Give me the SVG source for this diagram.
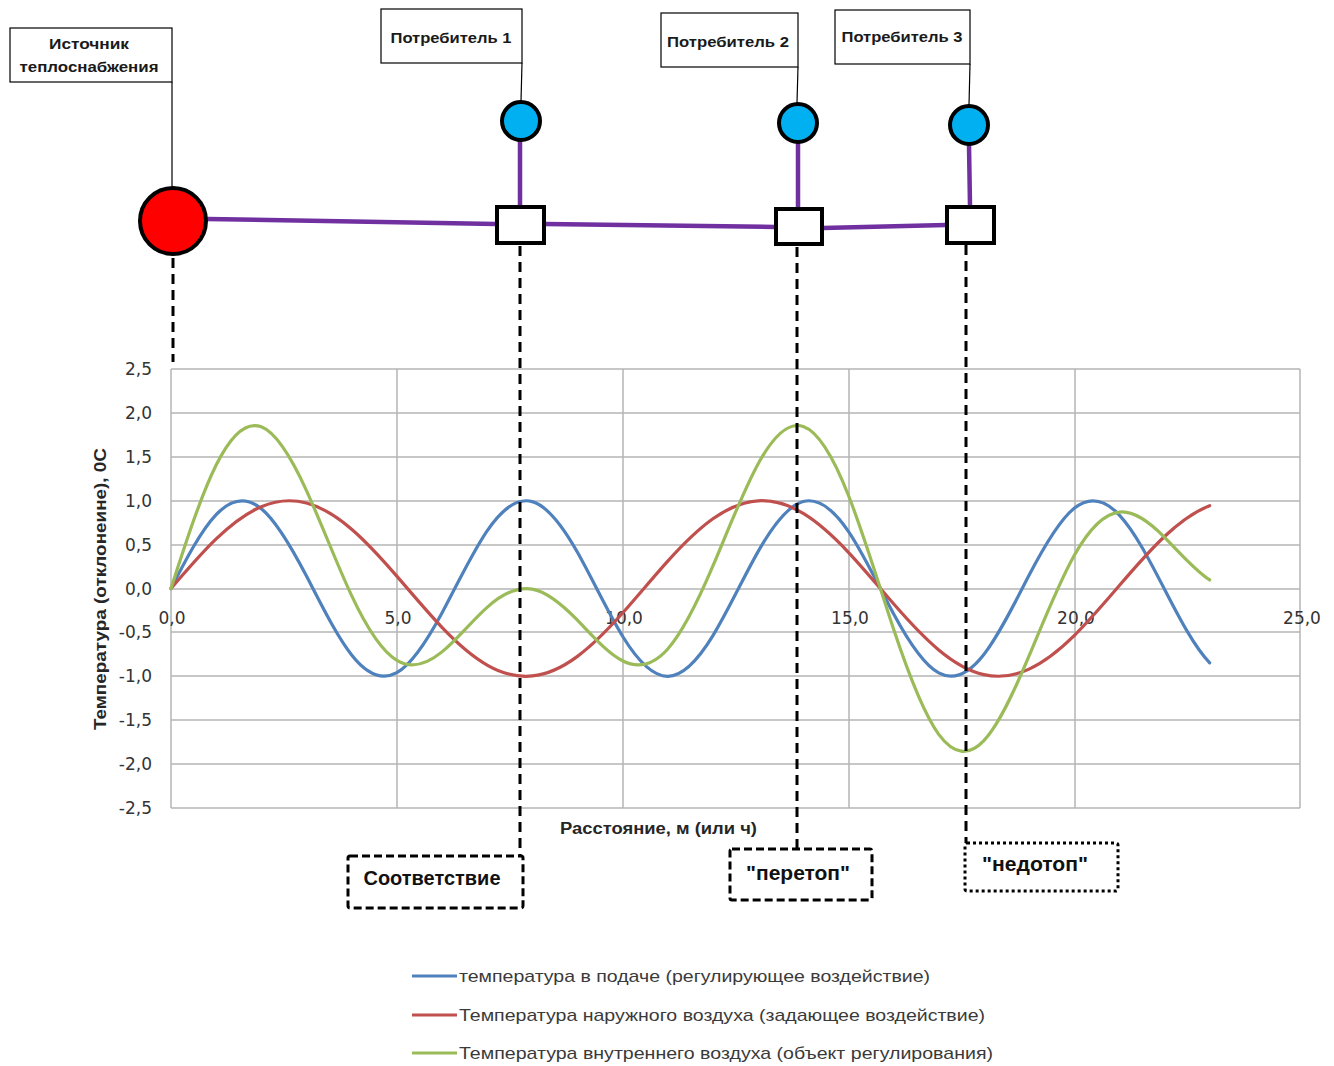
<svg xmlns="http://www.w3.org/2000/svg" width="1334" height="1066" viewBox="0 0 1334 1066">
<style>
.lbl{fill:#fff;stroke:#000;stroke-width:1.2}
.lt{font-family:"Liberation Sans",Arial,sans-serif;font-weight:bold;font-size:15px;fill:#1a1a1a;text-anchor:middle}
.pipe{stroke:#7030A0;stroke-width:4.5;fill:none;stroke-linecap:round}
.lead{stroke:#000;stroke-width:1.2;fill:none}
.dash{stroke:#000;stroke-width:3;fill:none;stroke-dasharray:10 6}
.cons{fill:#00B0F0;stroke:#000;stroke-width:4}
.junc{fill:#fff;stroke:#000;stroke-width:4}
.grid{stroke:#B5B5B5;stroke-width:1.5;fill:none}
.tick{font-family:"DejaVu Sans",Verdana,sans-serif;font-size:17px;fill:#333333}
.ty{text-anchor:end}
.tx{text-anchor:middle}
.ax{font-family:"Liberation Sans",Arial,sans-serif;font-weight:bold;font-size:16px;fill:#262626}
.curve{fill:none;stroke-width:3.2;stroke-linejoin:round;stroke-linecap:round}
.st{font-family:"Liberation Sans",Arial,sans-serif;font-weight:bold;font-size:20px;fill:#111;text-anchor:middle}
.lg{font-family:"Liberation Sans",Arial,sans-serif;font-size:17px;fill:#3a3a3a}
</style>
<rect width="1334" height="1066" fill="#fff"/>

<g id="chart">
  <g id="grid">
    <path class="grid" d="M171,369H1300M171,413H1300M171,457H1300M171,501H1300M171,545H1300M171,589H1300M171,632H1300M171,676H1300M171,720H1300M171,764H1300M171,808H1300"/>
    <path class="grid" d="M171,369V808M397,369V808M623,369V808M849,369V808M1075,369V808M1300,369V808"/>
  </g>
  <g id="y-ticks" class="tick ty">
    <text x="152" y="375">2,5</text>
    <text x="152" y="419">2,0</text>
    <text x="152" y="463">1,5</text>
    <text x="152" y="507">1,0</text>
    <text x="152" y="551">0,5</text>
    <text x="152" y="595">0,0</text>
    <text x="152" y="638">-0,5</text>
    <text x="152" y="682">-1,0</text>
    <text x="152" y="726">-1,5</text>
    <text x="152" y="770">-2,0</text>
    <text x="152" y="814">-2,5</text>
  </g>
  <g id="x-ticks" class="tick tx">
    <text x="172" y="624">0,0</text>
    <text x="398" y="624">5,0</text>
    <text x="624" y="624">10,0</text>
    <text x="850" y="624">15,0</text>
    <text x="1076" y="624">20,0</text>
    <text x="1302" y="624">25,0</text>
  </g>
  <text class="ax" transform="translate(106,589) rotate(-90)" text-anchor="middle" textLength="282" lengthAdjust="spacingAndGlyphs">Температура (отклонеине), 0С</text>
  <text class="ax" x="560" y="834" textLength="197" lengthAdjust="spacingAndGlyphs">Расстояние,  м (или ч)</text>
  <path id="s-blue" class="curve" stroke="#4F81BD" d="M171,588.5 C186.05,559.23 201.11,530.43 216.16,514.62 S246.27,496.48 261.32,508.66 S291.43,547.14 306.48,576.11 S336.59,635.82 351.64,654.95 S381.75,680.99 396.8,672.69 S426.91,641.13 441.96,613.03 S472.07,552.88 487.12,530.82 S517.23,497.37 532.28,501.63 S562.39,525.65 577.44,552.32 S607.55,611.7 622.6,636.26 S652.71,676.43 667.76,676.3 S697.87,660.31 712.92,635.61 S743.03,578.17 758.08,551.61 S788.19,505.52 803.24,501.52 S833.35,509.17 848.4,531.4 S878.51,585.75 893.56,613.78 S923.67,664.86 938.72,672.91 S968.83,673.77 983.88,654.44 S1013.99,604.28 1029.04,575.34 S1059.15,520.28 1074.2,508.34 S1104.31,499.01 1119.36,515.04 S1149.47,560.01 1164.52,589.28 S1194.63,647.21 1209.68,662.8"/>
  <path id="s-red" class="curve" stroke="#C0504D" d="M171,588.5 C186.05,570.94 201.11,553.41 216.16,538.92 S246.27,513.03 261.32,506.67 S291.43,499.01 306.48,503 S336.59,516.24 351.64,529.19 S381.75,558.73 396.8,576.11 S426.91,611.6 441.96,627.35 S472.07,656.41 487.12,665.02 S517.23,677.5 532.28,675.96 S562.39,667.5 577.44,656.35 S607.55,629.89 622.6,613.03 S652.71,577.84 667.76,561.15 S697.87,529.5 712.92,518.82 S743.03,501.78 758.08,500.83 S788.19,504.35 803.24,513.47 S833.35,536.32 848.4,552.32 S878.51,586.52 893.56,603.81 S923.67,637.41 938.72,649.95 S968.83,671.24 983.88,674.64 S1013.99,676.07 1029.04,669.12 S1059.15,650.43 1074.2,635.61 S1104.31,603.1 1119.36,585.55 S1149.47,550.67 1164.52,536.52 S1194.63,511.45 1209.68,505.64"/>
  <path id="s-green" class="curve" stroke="#9BBB59" d="M171,588.5 C186.05,541.67 201.11,495.34 216.16,465.04 S246.27,421.01 261.32,426.83 S291.43,457.65 306.48,490.61 S336.59,563.56 351.64,595.64 S381.75,651.22 396.8,660.3 S426.91,664.23 441.96,651.88 S472.07,620.79 487.12,607.34 S517.23,586.37 532.28,589.09 S562.39,604.65 577.44,620.17 S607.55,653.09 622.6,660.79 S652.71,665.77 667.76,648.95 S697.87,601.31 712.92,565.93 S743.03,491.45 758.08,463.94 S788.19,421.37 803.24,426.49 S833.35,456.99 848.4,495.22 S878.51,583.77 893.56,629.09 S923.67,713.77 938.72,734.36 S968.83,756.51 983.88,740.58 S1013.99,691.85 1029.04,655.96 S1059.15,582.21 1074.2,555.45 S1104.31,513.61 1119.36,512.09 S1149.47,522.18 1164.52,537.3 S1194.63,570.16 1209.68,579.94"/>
  <g id="legend">
    <line x1="412" y1="976" x2="457" y2="976" stroke="#4F81BD" stroke-width="3.2"/>
    <text class="lg" x="459" y="982" textLength="471" lengthAdjust="spacingAndGlyphs">температура в подаче (регулирующее воздействие)</text>
    <line x1="412" y1="1015" x2="457" y2="1015" stroke="#C0504D" stroke-width="3.2"/>
    <text class="lg" x="459" y="1021" textLength="526" lengthAdjust="spacingAndGlyphs">Температура наружного воздуха (задающее воздействие)</text>
    <line x1="412" y1="1053" x2="457" y2="1053" stroke="#9BBB59" stroke-width="3.2"/>
    <text class="lg" x="459" y="1059" textLength="534" lengthAdjust="spacingAndGlyphs">Температура внутреннего воздуха (объект регулирования)</text>
  </g>
</g>

<g id="connectors">
  <path class="pipe" d="M207,219 L496,224"/>
  <path class="pipe" d="M545,224 L775,227"/>
  <path class="pipe" d="M823,228 L946,225"/>
  <path class="pipe" d="M520,141 L520,206"/>
  <path class="pipe" d="M798,143 L798,208"/>
  <path class="pipe" d="M969,145 L970,206"/>
  <path class="lead" d="M172,82 L172,187"/>
  <path class="lead" d="M522,63 L521,101"/>
  <path class="lead" d="M798,67 L797,103"/>
  <path class="lead" d="M970,64 L969,105"/>
  <path class="dash" d="M173,258 L173,362"/>
  <path class="dash" d="M520,246 L520,857"/>
  <path class="dash" d="M797,247 L797,850"/>
  <path class="dash" d="M966,245 L966,843"/>
</g>

<g id="source">
  <circle cx="173" cy="221" r="33" fill="#FF0000" stroke="#000" stroke-width="4"/>
</g>
<g id="source-label">
  <rect class="lbl" x="10" y="28" width="162" height="54"/>
  <text class="lt" x="89" y="49" textLength="80" lengthAdjust="spacingAndGlyphs">Источник</text>
  <text class="lt" x="89" y="72" textLength="139" lengthAdjust="spacingAndGlyphs">теплоснабжения</text>
</g>
<g id="consumer1">
  <circle class="cons" cx="521" cy="121" r="19"/>
</g>
<g id="junction1">
  <rect class="junc" x="497" y="207" width="47" height="36"/>
</g>
<g id="consumer1-label">
  <rect class="lbl" x="381" y="9" width="141" height="54"/>
  <text class="lt" x="451" y="43" textLength="121" lengthAdjust="spacingAndGlyphs">Потребитель 1</text>
</g>
<g id="consumer2">
  <circle class="cons" cx="798" cy="123" r="19"/>
</g>
<g id="junction2">
  <rect class="junc" x="776" y="209" width="46" height="35"/>
</g>
<g id="consumer2-label">
  <rect class="lbl" x="661" y="13" width="137" height="54"/>
  <text class="lt" x="728" y="47" textLength="122" lengthAdjust="spacingAndGlyphs">Потребитель 2</text>
</g>
<g id="consumer3">
  <circle class="cons" cx="969" cy="125" r="19"/>
</g>
<g id="junction3">
  <rect class="junc" x="947" y="207" width="47" height="36"/>
</g>
<g id="consumer3-label">
  <rect class="lbl" x="835" y="10" width="135" height="54"/>
  <text class="lt" x="902" y="42" textLength="121" lengthAdjust="spacingAndGlyphs">Потребитель 3</text>
</g>

<g id="status-match">
  <rect x="348" y="856" width="175" height="52" rx="2" fill="#fff" stroke="#000" stroke-width="3" stroke-dasharray="8 4"/>
  <text class="st" x="432" y="885" textLength="137" lengthAdjust="spacingAndGlyphs">Соответствие</text>
</g>
<g id="status-over">
  <rect x="730" y="849" width="142" height="51" rx="2" fill="#fff" stroke="#000" stroke-width="3" stroke-dasharray="8 4"/>
  <text class="st" x="798" y="880" textLength="104" lengthAdjust="spacingAndGlyphs">"перетоп"</text>
</g>
<g id="status-under">
  <rect x="965" y="843" width="153" height="48" rx="2" fill="#fff" stroke="#000" stroke-width="3" stroke-dasharray="3 3"/>
  <text class="st" x="1035" y="871" textLength="106" lengthAdjust="spacingAndGlyphs">"недотоп"</text>
</g>
</svg>
